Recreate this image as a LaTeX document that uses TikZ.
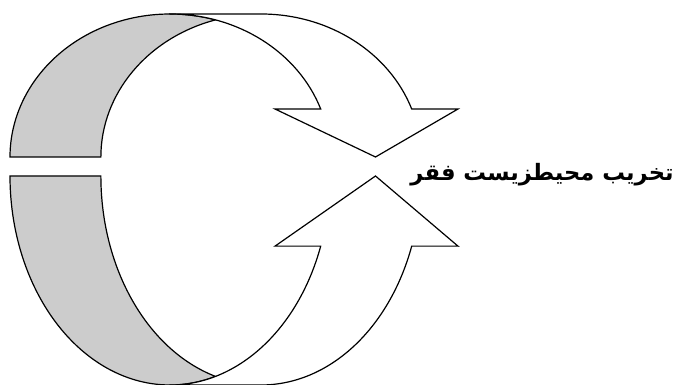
\documentclass[tikz,border=0pt]{standalone}
\usepackage{fontspec}
\usepackage{tikz}
\newfontfamily\arabicfont[Script=Arabic,BoldFont={DejaVu Sans Bold}]{DejaVu Sans}
\TeXXeTstate=1
\tikzset{ribbon/.style={draw,line width=1.2pt,line join=miter},
  backband/.style={ribbon,fill=gray!40},
  frontarrow/.style={ribbon,fill=white},
  caption/.style={inner sep=0pt,font=\arabicfont\bfseries\fontsize{22.6}{26}\selectfont}}

\begin{document}
\begin{tikzpicture}[x=1pt,y=1pt]
\useasboundingbox (0,0) rectangle (675,385);
\foreach \cy/\ry/\s in {228/143/1,209/209/-1}{
  \begin{scope}[shift={(0,\cy)},yscale={\s*\ry/143}]
  \draw[backband] (10,0) arc[start angle=180,end angle=73.5,x radius=160,y radius=143]
    arc[start angle=106.5,end angle=180,x radius=160,y radius=143] -- cycle;
  \draw[frontarrow] (170,143) -- (261,143)
    arc[start angle=90,end angle=19.6,x radius=160,y radius=143]
    -- (458,48) -- (375.5,0) -- (275,48) -- (320.7,48)
    arc[start angle=19.6,end angle=90,x radius=160,y radius=143] -- cycle;
  \end{scope}
}
\node[caption] (poverty) at (542,210) {\beginR تخریب محیطزیست فقر\endR};
\end{tikzpicture}
\end{document}
